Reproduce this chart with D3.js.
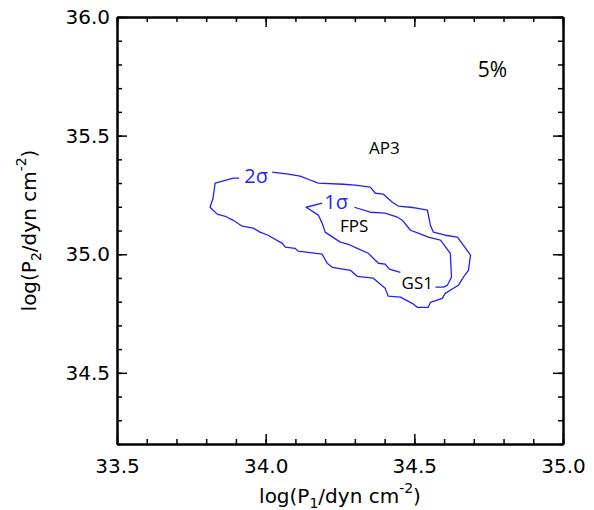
<!DOCTYPE html>
<html><head><meta charset="utf-8">
<script src="https://cdn.jsdelivr.net/npm/d3@7"></script>
<style>body{margin:0;background:#fff}svg{display:block}</style>
</head><body>
<svg id="c" width="594" height="510"></svg>
<script>
// ---- data ----
const xDomain = [33.5, 35.0];
const yDomain = [34.2, 36.0];
const xMajorTicks = [33.5, 34.0, 34.5, 35.0];
const yMajorTicks = [34.5, 35.0, 35.5, 36.0];
// 2-sigma contour (open at label gap)
const sigma2X = [34.022,34.076,34.116,34.143,34.177,34.261,34.301,34.352,34.369,34.396,34.426,34.446,34.487,34.507,34.544,34.554,34.564,34.604,34.645,34.689,34.682,34.665,34.648,34.604,34.594,34.554,34.547,34.510,34.493,34.453,34.412,34.402,34.362,34.308,34.285,34.224,34.207,34.190,34.109,34.099,34.066,34.056,34.008,33.981,33.958,33.921,33.891,33.864,33.837,33.813,33.823,33.830,33.891,33.911];
const sigma2Y = [35.346,35.338,35.329,35.316,35.300,35.295,35.291,35.283,35.257,35.253,35.219,35.203,35.198,35.194,35.186,35.122,35.093,35.080,35.072,34.996,34.932,34.903,34.869,34.835,34.814,34.797,34.776,34.776,34.793,34.819,34.823,34.857,34.899,34.907,34.932,34.945,34.962,35.000,35.013,35.025,35.030,35.046,35.080,35.093,35.110,35.118,35.143,35.160,35.169,35.198,35.236,35.300,35.321,35.321];
// 1-sigma contour, two pieces separated by label gaps
const sigma1aX = [34.298,34.352,34.402,34.443,34.460,34.487,34.513,34.547,34.588,34.621,34.625,34.611,34.598,34.571];
const sigma1aY = [35.198,35.177,35.173,35.156,35.143,35.101,35.089,35.072,35.059,35.004,34.903,34.869,34.861,34.861];
const sigma1bX = [34.453,34.416,34.402,34.379,34.345,34.308,34.278,34.251,34.200,34.190,34.177,34.136,34.190];
const sigma1bY = [34.924,34.937,34.958,34.962,35.004,35.025,35.042,35.051,35.093,35.131,35.165,35.198,35.215];
// labels
const contourLabels = ["2σ", "1σ"];
const contourLabelX = [33.968, 34.237];
const contourLabelY = [35.329, 35.221];
const modelNames = ["AP3", "FPS", "GS1"];
const modelX = [34.399, 34.298, 34.510];
const modelY = [35.447, 35.118, 34.878];
const panelLabel = "5%";
const panelLabelXY = [34.763, 35.778];

// ---- chart ----
const W = 594, H = 510;
const m = {l:117, r:31, t:17, b:66};
const svg = d3.select("#c");
const x = d3.scaleLinear().domain(xDomain).range([m.l, W - m.r]);
const y = d3.scaleLinear().domain(yDomain).range([H - m.b, m.t]);
const FONT = "'DejaVu Sans', Verdana, sans-serif";
const LFONT = "'Open Sans', 'DejaVu Sans', sans-serif";
const BLUE = "#1f1fff";

const xMinor = d3.range(33.5, 35.0001, 0.1).map(v => +v.toFixed(2));
const yMinor = d3.range(34.2, 36.0001, 0.1).map(v => +v.toFixed(2));

function styleAxis(g){
  g.select(".domain").attr("stroke","#000").attr("stroke-width",2);
  g.selectAll(".tick line").attr("stroke","#000").attr("stroke-width",1.5);
  g.selectAll(".tick text").attr("font-family",FONT).attr("font-size",20).attr("fill","#000");
}
const bottomY = H - m.b, rightX = W - m.r;

// minor ticks
svg.append("g").attr("transform",`translate(0,${bottomY})`)
  .call(d3.axisBottom(x).tickValues(xMinor).tickSizeInner(-5).tickSizeOuter(0).tickFormat("")).call(styleAxis);
svg.append("g").attr("transform",`translate(0,${m.t})`)
  .call(d3.axisTop(x).tickValues(xMinor).tickSizeInner(-5).tickSizeOuter(0).tickFormat("")).call(styleAxis);
svg.append("g").attr("transform",`translate(${m.l},0)`)
  .call(d3.axisLeft(y).tickValues(yMinor).tickSizeInner(-5).tickSizeOuter(0).tickFormat("")).call(styleAxis);
svg.append("g").attr("transform",`translate(${rightX},0)`)
  .call(d3.axisRight(y).tickValues(yMinor).tickSizeInner(-5).tickSizeOuter(0).tickFormat("")).call(styleAxis);
// major ticks
svg.append("g").attr("transform",`translate(0,${bottomY})`)
  .call(d3.axisBottom(x).tickValues(xMajorTicks).tickSizeInner(-10).tickSizeOuter(0).tickPadding(15).tickFormat(d3.format(".1f"))).call(styleAxis);
svg.append("g").attr("transform",`translate(0,${m.t})`)
  .call(d3.axisTop(x).tickValues(xMajorTicks).tickSizeInner(-10).tickSizeOuter(0).tickFormat("")).call(styleAxis);
svg.append("g").attr("transform",`translate(${m.l},0)`)
  .call(d3.axisLeft(y).tickValues(yMajorTicks).tickSizeInner(-10).tickSizeOuter(0).tickPadding(7).tickFormat(d3.format(".1f"))).call(styleAxis);
svg.append("g").attr("transform",`translate(${rightX},0)`)
  .call(d3.axisRight(y).tickValues(yMajorTicks).tickSizeInner(-10).tickSizeOuter(0).tickFormat("")).call(styleAxis);

// contours
const line = d3.line().x(d => x(d[0])).y(d => y(d[1]));
const paths = [
  d3.zip(sigma2X, sigma2Y),
  d3.zip(sigma1aX, sigma1aY),
  d3.zip(sigma1bX, sigma1bY)
];
svg.append("g").selectAll("path").data(paths).join("path")
  .attr("d", line).attr("fill","none").attr("stroke",BLUE).attr("stroke-width",1.3)
  .attr("stroke-linejoin","round");

// contour labels
svg.append("g").selectAll("text").data(contourLabels).join("text")
  .attr("x",(d,i)=>x(contourLabelX[i])).attr("y",(d,i)=>y(contourLabelY[i]))
  .attr("dy","0.35em").attr("text-anchor","middle")
  .attr("font-family",LFONT).attr("font-size",20).attr("fill",BLUE).text(d=>d);

// model labels
svg.append("g").selectAll("text").data(modelNames).join("text")
  .attr("x",(d,i)=>x(modelX[i])).attr("y",(d,i)=>y(modelY[i]))
  .attr("dy","0.35em").attr("text-anchor","middle")
  .attr("font-family",LFONT).attr("font-size",17).attr("fill","#000").text(d=>d);

svg.append("text").attr("x",x(panelLabelXY[0])).attr("y",y(panelLabelXY[1]))
  .attr("dy","0.35em").attr("text-anchor","middle")
  .attr("font-family",LFONT).attr("font-size",21).attr("fill","#000").text(panelLabel);

// axis titles
function title(t, sub){
  t.attr("font-family",FONT).attr("font-size",20).attr("fill","#000").attr("text-anchor","middle");
  t.append("tspan").text("log(P");
  t.append("tspan").attr("font-size",14).attr("dy",5).text(sub);
  t.append("tspan").attr("dy",-5).text("/dyn cm");
  t.append("tspan").attr("font-size",14).attr("dy",-10).text("-2");
  t.append("tspan").attr("dy",10).text(")");
}
svg.append("text").attr("x",(m.l+rightX)/2).attr("y",503).call(title,"1");
svg.append("text").attr("transform",`translate(36,${(m.t+bottomY)/2}) rotate(-90)`).call(title,"2");
</script>
</body></html>
